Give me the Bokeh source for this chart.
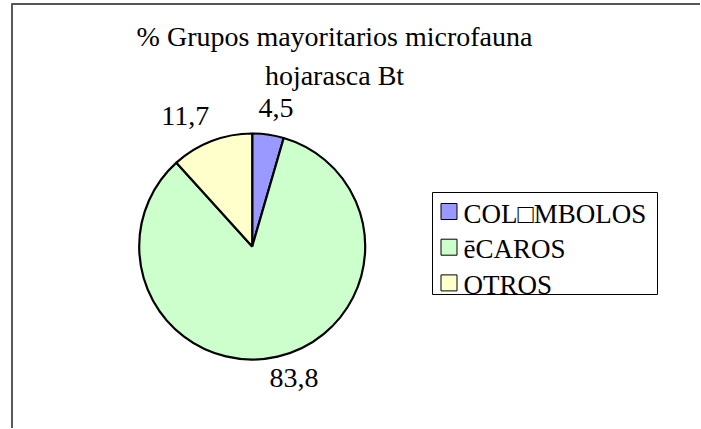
import math
from bokeh.plotting import figure
from bokeh.models import Range1d, ColumnDataSource
from bokeh.core.properties import value
from bokeh.embed import file_html
from bokeh.resources import INLINE

# ---- data ----
title_lines = ["% Grupos mayoritarios microfauna", "hojarasca Bt"]
categories = ["COL\u25a1MBOLOS", "\u0113CAROS", "OTROS"]
values = [4.5, 83.8, 11.7]
colors = ["#9999FF", "#CCFFCC", "#FFFFCC"]

# ---- layout (page pixel coords -> figure coords) ----
W, H = 700, 428
OX, OY = 0, 0
FONT = "Liberation Serif"


def X(px):
    return px - OX


def Y(py):
    return (H + OY) - py


p = figure(width=W, height=H, output_backend="svg", toolbar_location=None,
           x_range=Range1d(0, W), y_range=Range1d(0, H),
           x_axis_type=None, y_axis_type=None, min_border=0,
           outline_line_color=None, background_fill_color="white",
           border_fill_color="white")

# chart area frame (left and top edges)
p.line(x=[X(11.5), X(11.5)], y=[Y(3), Y(H + 5)], line_color="#222222", line_width=1.5)
p.line(x=[X(11), X(W + 5)], y=[Y(3.5), Y(3.5)], line_color="#555555", line_width=2)

# title
p.text(x=[X(334), X(334)], y=[Y(36), Y(75)], text=title_lines,
       text_align="center", text_baseline="alphabetic",
       text_font=value(FONT), text_font_size="28px", text_color="black")

# pie
cx, cy, R = X(251.7), Y(246), 113
total = sum(values)
cum = [0.0]
for v in values:
    cum.append(cum[-1] + v / total)
start = [math.pi / 2 - 2 * math.pi * c for c in cum[:-1]]
end = [math.pi / 2 - 2 * math.pi * c for c in cum[1:]]
src = ColumnDataSource(dict(start=start, end=end, color=colors, cat=categories, val=values))
p.wedge(x=cx, y=cy, radius=R, start_angle="start", end_angle="end",
        direction="clock", fill_color="color", line_color="black",
        line_width=2.2, source=src)

# data labels
LFS = 28
lab_text, lab_x, lab_y = [], [], []
for v, s, e in zip(values, start, end):
    t = f"{v:.1f}".replace(".", ",")
    mid = (s + e) / 2
    c, sn = math.cos(mid), math.sin(mid)
    w = LFS * sum(0.25 if ch == "," else 0.5 for ch in t)
    ax = cx + (R + 12) * c
    ay = cy + (R + 12) * sn
    kx = max(-1.0, min(1.0, 2.5 * c))
    lab_text.append(t)
    lab_x.append(ax + w / 2 * kx)
    lab_y.append(ay + 12.5 * sn + 2)
p.text(x=lab_x, y=lab_y, text=lab_text, text_align="center", text_baseline="middle",
       text_font=value(FONT), text_font_size=f"{LFS}px", text_color="black")

# legend
lx0, lx1, ly0, ly1 = 432, 657, 192, 294
p.quad(left=[X(lx0)], right=[X(lx1)], top=[Y(ly0)], bottom=[Y(ly1)],
       fill_color="white", line_color="black", line_width=1)
row_gap = 35.7
sq_y = [Y(211 + i * row_gap) for i in range(len(categories))]
tx_y = [Y(213 + i * row_gap) for i in range(len(categories))]
p.rect(x=[X(448.5)] * len(categories), y=sq_y, width=16, height=16,
       fill_color=colors, line_color="black", line_width=1)
p.text(x=[X(463)] * len(categories), y=tx_y, text=categories,
       text_align="left", text_baseline="alphabetic",
       text_font=value(FONT), text_font_size="27px", text_color="black")

open("out.html", "w").write(file_html(p, INLINE))
